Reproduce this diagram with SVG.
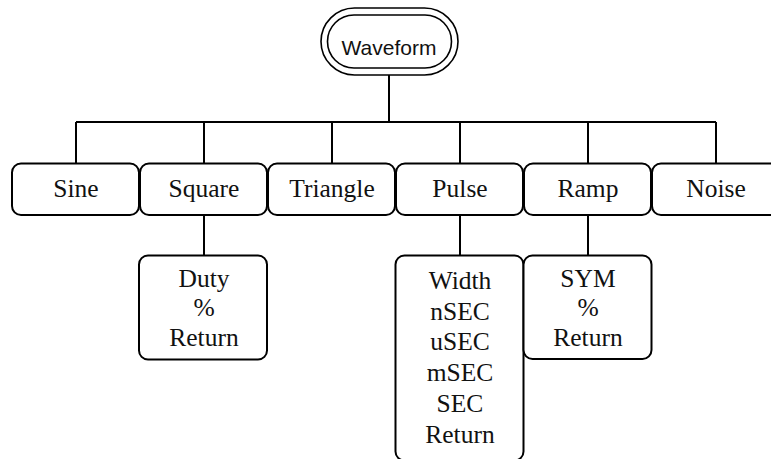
<svg xmlns="http://www.w3.org/2000/svg" width="771" height="459" viewBox="0 0 771 459">
<style>
.box{fill:#fff;stroke:#000;stroke-width:2}
.wf{fill:none;stroke:#000;stroke-width:1.6}
.lbl{font-family:"Liberation Serif","Times New Roman",serif;font-size:25.5px;fill:#111;text-anchor:middle}
.sans{font-family:"Liberation Sans",Arial,sans-serif;font-size:21px;fill:#111;text-anchor:middle}
.conn{fill:none;stroke:#000;stroke-width:2}
</style>
<rect width="771" height="459" fill="#fff"/>
<g id="connectors">
<path class="conn" d="M389 75V122M76 122H716M76 122V164M204 122V164M332 122V164M460 122V164M588 122V164M716 122V164"/>
<path class="conn" d="M204 215V256M460 215V256M588 215V256"/>
</g>
<g id="waveform">
<rect class="wf" x="321" y="8" width="137" height="67" rx="33.5"/>
<rect class="wf" x="327.5" y="15" width="124" height="53" rx="26.5"/>
<text class="sans" x="389" y="55">Waveform</text>
</g>
<g id="sine"><rect class="box" x="12" y="163.5" width="127" height="51.5" rx="9"/><text class="lbl" x="76" y="197">Sine</text></g>
<g id="square"><rect class="box" x="140" y="163.5" width="127" height="51.5" rx="9"/><text class="lbl" x="204" y="197">Square</text></g>
<g id="triangle"><rect class="box" x="268" y="163.5" width="127" height="51.5" rx="9"/><text class="lbl" x="332" y="197">Triangle</text></g>
<g id="pulse"><rect class="box" x="396" y="163.5" width="127" height="51.5" rx="9"/><text class="lbl" x="460" y="197">Pulse</text></g>
<g id="ramp"><rect class="box" x="524" y="163.5" width="127" height="51.5" rx="9"/><text class="lbl" x="588" y="197">Ramp</text></g>
<g id="noise"><rect class="box" x="652" y="163.5" width="127" height="51.5" rx="9"/><text class="lbl" x="716" y="197">Noise</text></g>
<g id="duty"><rect class="box" x="139" y="255.5" width="128" height="104" rx="9"/>
<text class="lbl" x="204" y="286.5">Duty</text><text class="lbl" x="204" y="316">%</text><text class="lbl" x="204" y="346">Return</text></g>
<g id="width"><rect class="box" x="395.5" y="255.5" width="128" height="205" rx="9"/>
<text class="lbl" x="460" y="288.5">Width</text><text class="lbl" x="460" y="319.5">nSEC</text><text class="lbl" x="460" y="350">uSEC</text><text class="lbl" x="460" y="381">mSEC</text><text class="lbl" x="460" y="412">SEC</text><text class="lbl" x="460" y="443">Return</text></g>
<g id="sym"><rect class="box" x="523.5" y="255.5" width="128" height="103.5" rx="9"/>
<text class="lbl" x="588" y="286.5">SYM</text><text class="lbl" x="588" y="316">%</text><text class="lbl" x="588" y="346">Return</text></g>
</svg>
